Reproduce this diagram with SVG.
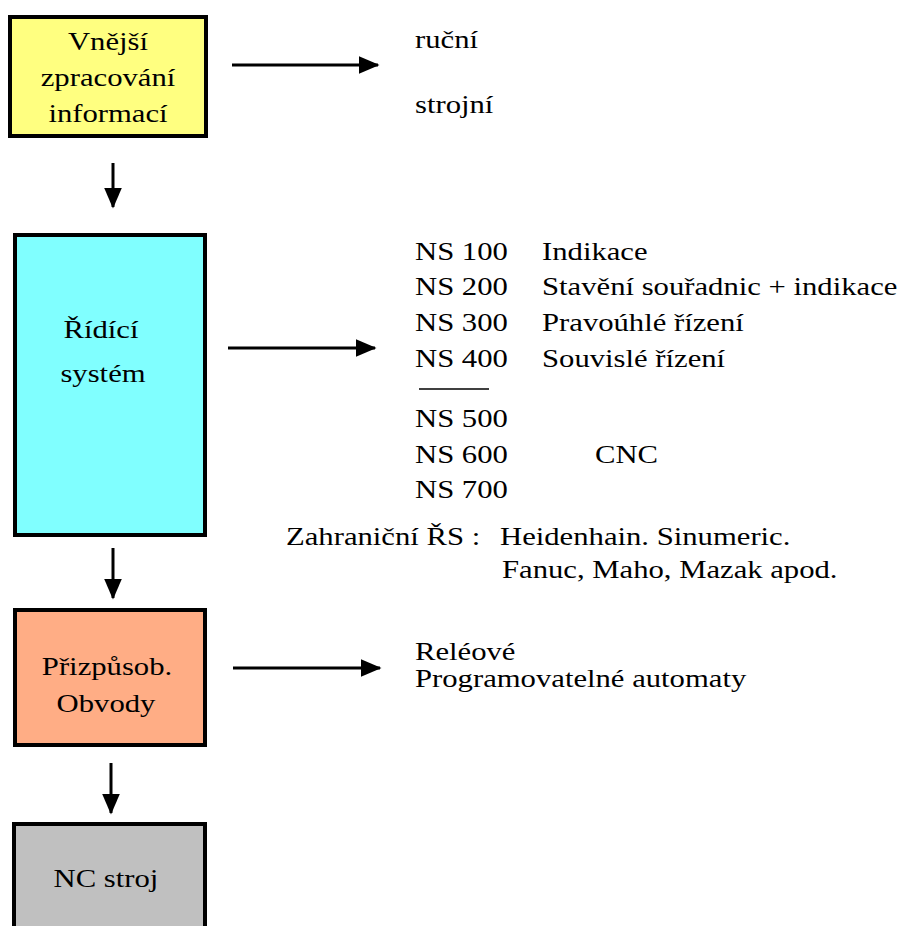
<svg xmlns="http://www.w3.org/2000/svg" width="908" height="926" viewBox="0 0 908 926">
<defs>
<style>
.box{stroke:#000;stroke-width:4}
.t{font-family:'Liberation Serif','DejaVu Serif',serif;font-size:26px;fill:#000}
.m{text-anchor:middle}
.c{stroke:#000;stroke-width:3;fill:none}
</style>
<marker id="ah" markerWidth="7" markerHeight="6" refX="6.5" refY="3" orient="auto" markerUnits="strokeWidth">
<path d="M0,0 L7,3 L0,6 Z" fill="#000"/>
</marker>
</defs>
<rect width="908" height="926" fill="#fff"/>
<g id="n1">
<rect class="box" x="10" y="17" width="196" height="119" fill="#FFFF80"/>
<text class="t m" font-family="Liberation Serif, serif" transform="translate(108,50) scale(1.18,1)">Vnější</text>
<text class="t m" font-family="Liberation Serif, serif" transform="translate(108,86) scale(1.18,1)">zpracování</text>
<text class="t m" font-family="Liberation Serif, serif" transform="translate(108,122) scale(1.18,1)">informací</text>
</g>
<g id="n2">
<rect class="box" x="15" y="235" width="190" height="300" fill="#80FFFF"/>
<text class="t m" font-family="Liberation Serif, serif" transform="translate(101,338) scale(1.18,1)">Řídící</text>
<text class="t m" font-family="Liberation Serif, serif" transform="translate(103,382) scale(1.18,1)">systém</text>
</g>
<g id="n3">
<rect class="box" x="15" y="610" width="190" height="135" fill="#FFAD85"/>
<text class="t m" font-family="Liberation Serif, serif" transform="translate(107,675) scale(1.18,1)">Přizpůsob.</text>
<text class="t m" font-family="Liberation Serif, serif" transform="translate(106,712) scale(1.18,1)">Obvody</text>
</g>
<g id="n4">
<rect class="box" x="14" y="824" width="191" height="130" fill="#C0C0C0"/>
<text class="t m" font-family="Liberation Serif, serif" transform="translate(106,887) scale(1.18,1)">NC stroj</text>
</g>
<g id="labels" font-family="Liberation Serif, serif">
<text class="t" transform="translate(415,48) scale(1.18,1)">ruční</text>
<text class="t" transform="translate(415,113) scale(1.18,1)">strojní</text>
<text class="t" transform="translate(415,260) scale(1.18,1)">NS 100</text>
<text class="t" transform="translate(415,295) scale(1.18,1)">NS 200</text>
<text class="t" transform="translate(415,331) scale(1.18,1)">NS 300</text>
<text class="t" transform="translate(415,367) scale(1.18,1)">NS 400</text>
<text class="t" transform="translate(415,427) scale(1.18,1)">NS 500</text>
<text class="t" transform="translate(415,463) scale(1.18,1)">NS 600</text>
<text class="t" transform="translate(415,498) scale(1.18,1)">NS 700</text>
<text class="t" transform="translate(542,260) scale(1.18,1)">Indikace</text>
<text class="t" transform="translate(542,295) scale(1.18,1)">Stavění souřadnic + indikace</text>
<text class="t" transform="translate(542,331) scale(1.18,1)">Pravoúhlé řízení</text>
<text class="t" transform="translate(542,367) scale(1.18,1)">Souvislé řízení</text>
<text class="t" transform="translate(595,463) scale(1.18,1)">CNC</text>
<text class="t" transform="translate(286,545) scale(1.18,1)">Zahraniční ŘS :</text>
<text class="t" transform="translate(500,545) scale(1.18,1)">Heidenhain. Sinumeric.</text>
<text class="t" transform="translate(502,578) scale(1.18,1)">Fanuc, Maho, Mazak apod.</text>
<text class="t" transform="translate(415,660) scale(1.18,1)">Reléové</text>
<text class="t" transform="translate(415,687) scale(1.18,1)">Programovatelné automaty</text>
<line x1="419" y1="389" x2="489" y2="389" stroke="#000" stroke-width="1.5"/>
</g>
<g id="connectors">
<line class="c" x1="232" y1="65" x2="378" y2="65" marker-end="url(#ah)"/>
<line class="c" x1="228" y1="348" x2="375" y2="348" marker-end="url(#ah)"/>
<line class="c" x1="233" y1="668" x2="380" y2="668" marker-end="url(#ah)"/>
<line class="c" x1="113" y1="163" x2="113" y2="207" marker-end="url(#ah)"/>
<line class="c" x1="113" y1="548" x2="113" y2="598" marker-end="url(#ah)"/>
<line class="c" x1="111" y1="763" x2="111" y2="813" marker-end="url(#ah)"/>
</g>
</svg>
